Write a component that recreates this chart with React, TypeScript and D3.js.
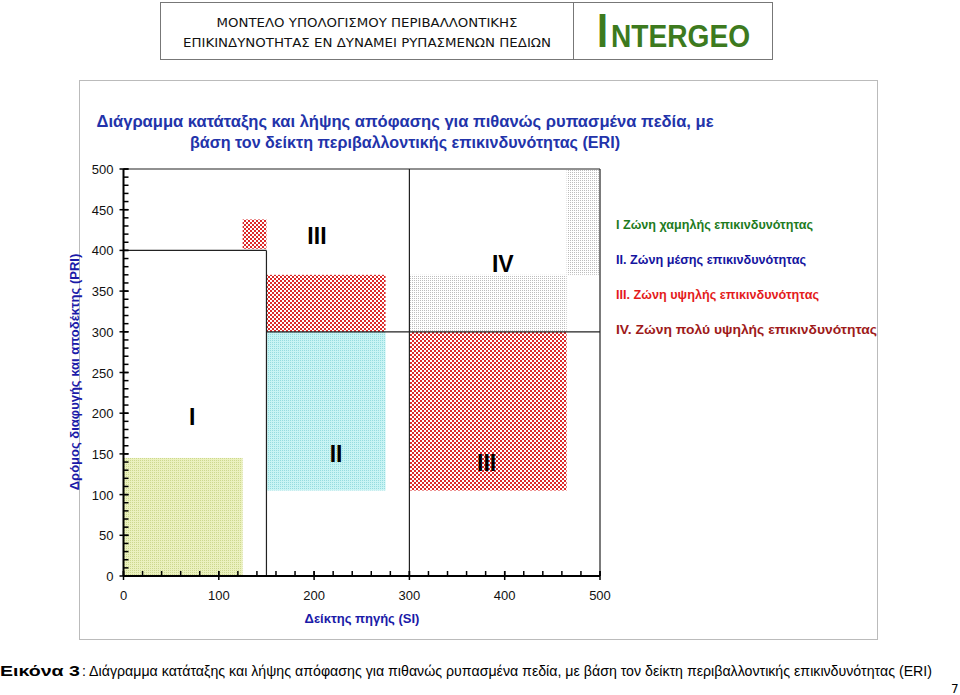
import React from "react";
import * as d3 from "d3";

// ---- data ----
const xTickValues = [0, 100, 200, 300, 400, 500];
const yTickValues = [0, 50, 100, 150, 200, 250, 300, 350, 400, 450, 500];
const xMinorStep = 20;
const yMinorStep = 10;

// zone rectangles: [x0, x1, y0, y1, pattern]
const zoneRects: [number, number, number, number, string][] = [
  [0, 125, 0, 145, "pI"],
  [150, 275, 105, 300, "pII"],
  [150, 275, 300, 370, "pIII"],
  [125, 150, 402, 438, "pIII"],
  [300, 465, 105, 300, "pIII"],
  [300, 465, 300, 370, "pIV"],
  [465, 500, 370, 500, "pIV"],
];

// zone boundary lines: [x1, y1, x2, y2]
const boundaryLines: [number, number, number, number][] = [
  [0, 500, 500, 500],
  [500, 500, 500, 0],
  [0, 400, 150, 400],
  [150, 400, 150, 0],
  [150, 300, 500, 300],
  [300, 500, 300, 0],
];

// zone labels: [text, x, y(baseline)]
const zoneLabels: [string, number, number][] = [
  ["I", 72, 186],
  ["III", 203, 408],
  ["IV", 398, 373],
  ["II", 223, 140],
  ["III", 381, 129],
];

const legendItems = [
  "I Ζώνη χαμηλής επικινδυνότητας",
  "II. Ζώνη μέσης επικινδυνότητας",
  "III. Ζώνη υψηλής επικινδυνότητας",
  "IV. Ζώνη πολύ υψηλής επικινδυνότητας",
];
const legendColors = ["#1e7b1e", "#1414a0", "#e41b1b", "#9e1a1a"];
const legendWidths = [197, 190, 203, 261];

const titleLines = [
  "Διάγραμμα κατάταξης και λήψης απόφασης για πιθανώς ρυπασμένα πεδία, με",
  "βάση τον δείκτη περιβαλλοντικής επικινδυνότητας (ERI)",
];
const headerLines = [
  "ΜΟΝΤΕΛΟ ΥΠΟΛΟΓΙΣΜΟΥ ΠΕΡΙΒΑΛΛΟΝΤΙΚΗΣ",
  "ΕΠΙΚΙΝΔΥΝΟΤΗΤΑΣ ΕΝ ΔΥΝΑΜΕΙ ΡΥΠΑΣΜΕΝΩΝ ΠΕΔΙΩΝ",
];
const logoFirst = "I";
const logoRest = "NTERGEO";
const xAxisTitle = "Δείκτης πηγής (SI)";
const yAxisTitle = "Δρόμος διαφυγής και αποδέκτης (PRI)";
const captionBold = "Εικόνα 3";
const captionText =
  ": Διάγραμμα κατάταξης και λήψης απόφασης για πιθανώς ρυπασμένα πεδία, με βάση τον δείκτη περιβαλλοντικής επικινδυνότητας (ERI)";
const pageNumber = "7";

const AX = "'Liberation Sans', Arial, sans-serif";
const TAH = "'DejaVu Sans', sans-serif";
const NARROW = "'Liberation Sans Narrow', 'Liberation Sans', sans-serif";

export default function App() {
  const x = d3.scaleLinear().domain([0, 500]).range([123.5, 600]);
  const y = d3.scaleLinear().domain([0, 500]).range([576, 169]);
  const xMinor = d3.range(0, 501, xMinorStep);
  const yMinor = d3.range(0, 501, yMinorStep);

  return (
    <svg
      width={960}
      height={695}
      style={{ position: "absolute", left: 0, top: 0, background: "#fff" }}
    >
      <defs>
        <pattern id="pI" width={2} height={2} patternUnits="userSpaceOnUse">
          <rect width={2} height={2} fill="#ebf1bf" />
          <rect width={1} height={1} fill="#cdd88f" />
        </pattern>
        <pattern id="pII" width={2} height={2} patternUnits="userSpaceOnUse">
          <rect width={2} height={2} fill="#c8f4f4" />
          <rect width={1} height={1} fill="#95dcdf" />
        </pattern>
        <pattern id="pIII" width={4} height={4} patternUnits="userSpaceOnUse">
          <rect width={4} height={4} fill="#fff" />
          <rect x={0} y={0} width={2} height={2} fill="#dc2a2a" />
          <rect x={2} y={2} width={2} height={2} fill="#dc2a2a" />
        </pattern>
        <pattern id="pIV" width={2} height={2} patternUnits="userSpaceOnUse">
          <rect width={2} height={2} fill="#fff" />
          <rect width={1} height={1} fill="#bdbdbd" />
        </pattern>
      </defs>

      {/* header box */}
      <rect x={160.5} y={2.5} width={612} height={57} fill="none" stroke="#777" />
      <line x1={573.5} y1={2.5} x2={573.5} y2={59.5} stroke="#777" />
      {headerLines.map((t, i) => (
        <text
          key={i}
          x={367}
          y={27 + i * 20}
          textAnchor="middle"
          fontFamily={TAH}
          fontSize={13}
          fill="#111"
          textLength={i === 0 ? 301 : 368}
          lengthAdjust="spacingAndGlyphs"
        >
          {t}
        </text>
      ))}
      <text
        x={597}
        y={47}
        fontFamily={NARROW}
        fontWeight="bold"
        fontSize={48}
        fill="#3d7a1e"
        textLength={11}
        lengthAdjust="spacingAndGlyphs"
      >
        {logoFirst}
      </text>
      <text
        x={611}
        y={47}
        fontFamily={NARROW}
        fontWeight="bold"
        fontSize={32}
        fill="#3d7a1e"
        textLength={139}
        lengthAdjust="spacingAndGlyphs"
      >
        {logoRest}
      </text>

      {/* chart frame */}
      <rect x={79.5} y={80.5} width={798} height={559} fill="#fff" stroke="#bbb" />

      {/* title */}
      {titleLines.map((t, i) => (
        <text
          key={i}
          x={405}
          y={127 + i * 21}
          textAnchor="middle"
          fontFamily={AX}
          fontWeight="bold"
          fontSize={16}
          fill="#2233aa"
          textLength={i === 0 ? 617 : 430}
          lengthAdjust="spacingAndGlyphs"
        >
          {t}
        </text>
      ))}

      {/* zone rects */}
      {zoneRects.map(([x0, x1, y0, y1, p], i) => (
        <rect
          key={i}
          x={x(x0)}
          y={y(y1)}
          width={x(x1) - x(x0)}
          height={y(y0) - y(y1)}
          fill={`url(#${p})`}
        />
      ))}

      {/* boundary lines */}
      {boundaryLines.map(([a, b, c, d], i) => (
        <line
          key={i}
          x1={x(a)}
          y1={y(b)}
          x2={x(c)}
          y2={y(d)}
          stroke="#222"
          strokeWidth={1.2}
        />
      ))}

      {/* zone labels */}
      {zoneLabels.map(([t, lx, ly], i) => (
        <text
          key={i}
          x={x(lx)}
          y={y(ly)}
          textAnchor="middle"
          fontFamily={AX}
          fontWeight="bold"
          fontSize={23}
          fill="#000"
        >
          {t}
        </text>
      ))}

      {/* y axis */}
      <line x1={x(0)} y1={y(0)} x2={x(0)} y2={y(500)} stroke="#000" strokeWidth={2} />
      {yMinor.map((v) => (
        <line key={v} x1={x(0)} x2={x(0) + 5} y1={y(v)} y2={y(v)} stroke="#000" strokeWidth={1.5} />
      ))}
      {yTickValues.map((v) => (
        <g key={v}>
          <line x1={x(0) - 4} x2={x(0) + 5} y1={y(v)} y2={y(v)} stroke="#000" strokeWidth={1.5} />
          <text
            x={x(0) - 10}
            y={y(v) + 5}
            textAnchor="end"
            fontFamily={AX}
            fontSize={13}
            fill="#111"
          >
            {v}
          </text>
        </g>
      ))}

      {/* x axis */}
      <line x1={x(0)} y1={y(0)} x2={x(500)} y2={y(0)} stroke="#000" strokeWidth={2} />
      {xMinor.map((v) => (
        <line key={v} x1={x(v)} x2={x(v)} y1={y(0) - 5} y2={y(0)} stroke="#000" strokeWidth={1.5} />
      ))}
      {xTickValues.map((v) => (
        <g key={v}>
          <line x1={x(v)} x2={x(v)} y1={y(0) - 5} y2={y(0) + 4} stroke="#000" strokeWidth={1.5} />
          <text
            x={x(v)}
            y={y(0) + 24}
            textAnchor="middle"
            fontFamily={AX}
            fontSize={13}
            fill="#111"
          >
            {v}
          </text>
        </g>
      ))}

      {/* axis titles */}
      <text
        x={362}
        y={623}
        textAnchor="middle"
        fontFamily={AX}
        fontWeight="bold"
        fontSize={13}
        fill="#1a1aa8"
      >
        {xAxisTitle}
      </text>
      <text
        transform="translate(79,372) rotate(-90)"
        textAnchor="middle"
        fontFamily={AX}
        fontWeight="bold"
        fontSize={13}
        fill="#1a1aa8"
      >
        {yAxisTitle}
      </text>

      {/* legend */}
      {legendItems.map((t, i) => (
        <text
          key={i}
          x={616}
          y={229 + i * 35}
          fontFamily={AX}
          fontWeight="bold"
          fontSize={12.5}
          fill={legendColors[i]}
          textLength={legendWidths[i]}
          lengthAdjust="spacingAndGlyphs"
        >
          {t}
        </text>
      ))}

      {/* caption */}
      <text
        x={0}
        y={676}
        fontFamily={AX}
        fontWeight="bold"
        fontSize={14}
        fill="#000"
        textLength={80}
        lengthAdjust="spacingAndGlyphs"
      >
        {captionBold}
      </text>
      <text
        x={82}
        y={676}
        fontFamily={AX}
        fontSize={14}
        fill="#000"
        textLength={850}
        lengthAdjust="spacingAndGlyphs"
      >
        {captionText}
      </text>
      <text x={951} y={693} fontFamily={TAH} fontSize={12} fill="#000">
        {pageNumber}
      </text>
    </svg>
  );
}
